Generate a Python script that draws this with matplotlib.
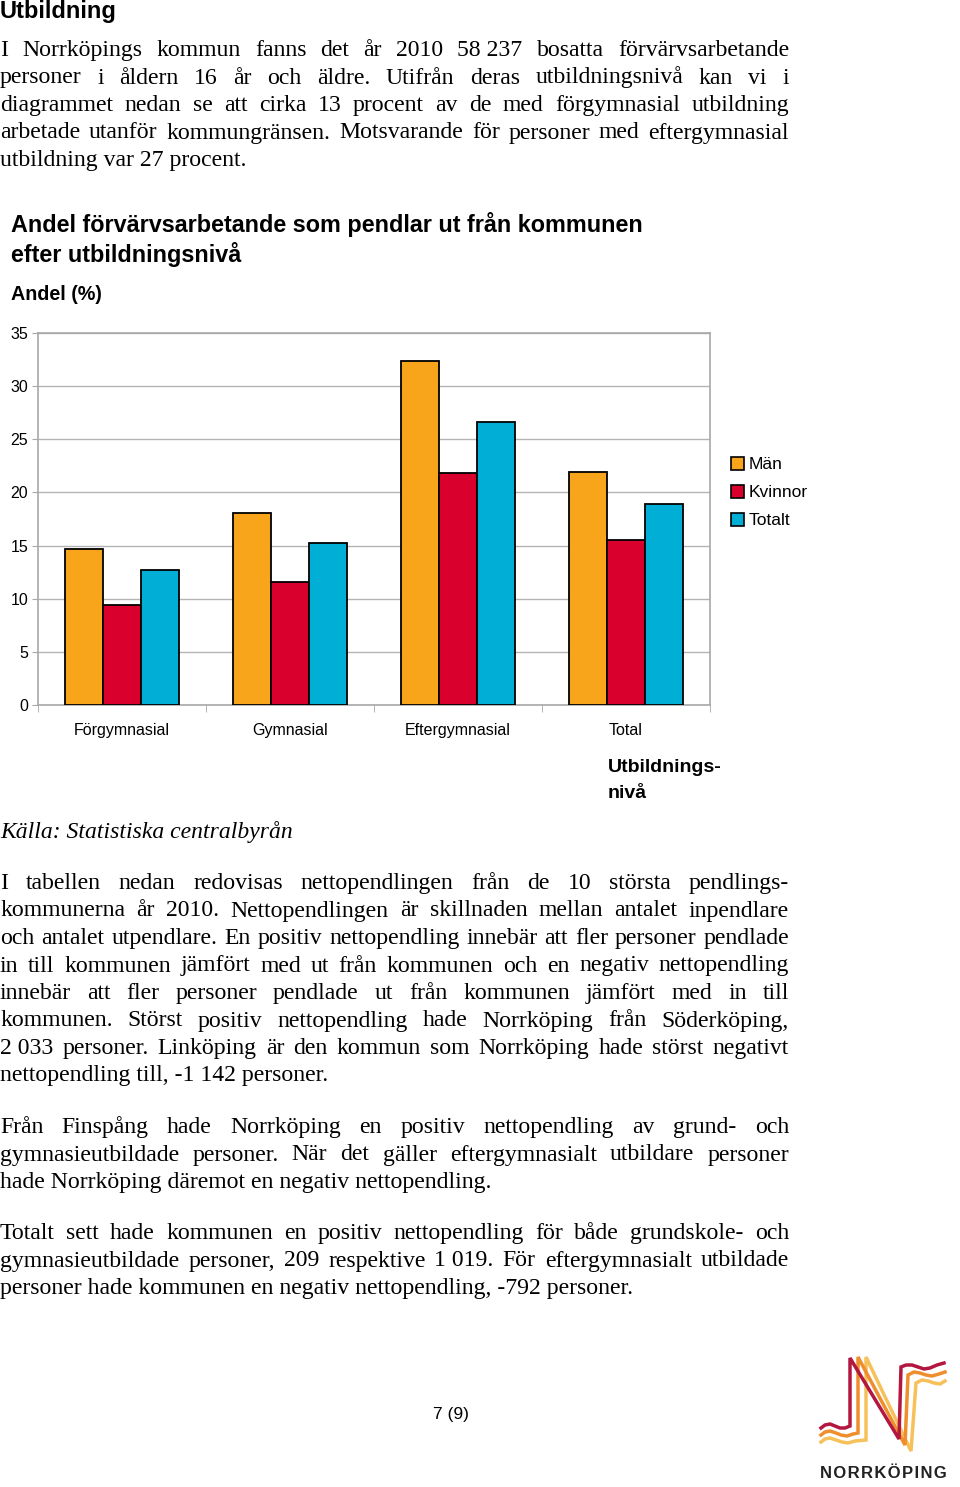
import numpy as np
import matplotlib.pyplot as plt
from matplotlib.patches import Patch

# chart data
categories = ['Förgymnasial', 'Gymnasial', 'Eftergymnasial', 'Total']
series_names = ['Män', 'Kvinnor', 'Totalt']
man = [14.7, 18.1, 32.4, 21.9]
kvinnor = [9.4, 11.6, 21.8, 15.5]
totalt = [12.7, 15.2, 26.6, 18.9]
yticks = [0, 5, 10, 15, 20, 25, 30, 35]
colors = ['#F8A51B', '#DA002E', '#00AED6']

NB = '\u00a0'
para1 = [
    f"I Norrköpings kommun fanns det år 2010 58{NB}237 bosatta förvärvsarbetande",
    "personer i åldern 16 år och äldre. Utifrån deras utbildningsnivå kan vi i",
    "diagrammet nedan se att cirka 13 procent av de med förgymnasial utbildning",
    "arbetade utanför kommungränsen. Motsvarande för personer med eftergymnasial",
    "utbildning var 27 procent.",
]
para2 = [
    "I tabellen nedan redovisas nettopendlingen från de 10 största pendlings-",
    "kommunerna år 2010. Nettopendlingen är skillnaden mellan antalet inpendlare",
    "och antalet utpendlare. En positiv nettopendling innebär att fler personer pendlade",
    "in till kommunen jämfört med ut från kommunen och en negativ nettopendling",
    "innebär att fler personer pendlade ut från kommunen jämfört med in till",
    "kommunen. Störst positiv nettopendling hade Norrköping från Söderköping,",
    f"2{NB}033 personer. Linköping är den kommun som Norrköping hade störst negativt",
    f"nettopendling till, -1{NB}142 personer.",
]
para3 = [
    "Från Finspång hade Norrköping en positiv nettopendling av grund- och",
    "gymnasieutbildade personer. När det gäller eftergymnasialt utbildare personer",
    "hade Norrköping däremot en negativ nettopendling.",
]
para4 = [
    "Totalt sett hade kommunen en positiv nettopendling för både grundskole- och",
    f"gymnasieutbildade personer, 209 respektive 1{NB}019. För eftergymnasialt utbildade",
    "personer hade kommunen en negativ nettopendling, -792 personer.",
]

W, H = 960, 1487
fig = plt.figure(figsize=(9.6, 14.87), dpi=100)
plt.rcParams['font.family'] = ['Liberation Sans', 'DejaVu Sans']


def fx(x):
    return x / W


def fy(y):
    return 1 - y / H


# page layer in pixel coordinates (y downwards)
page = fig.add_axes([0, 0, 1, 1])
page.set_xlim(0, W)
page.set_ylim(H, 0)
page.axis('off')

# --- chart ---
ax = fig.add_axes([fx(38), fy(705), 672 / W, 372 / H])
x = np.arange(len(categories))
width = 0.226
for i, (vals, c) in enumerate(zip([man, kvinnor, totalt], colors)):
    ax.bar(x + (i - 1) * width, vals, width, color=c, edgecolor='black',
           linewidth=1.3, zorder=3)
ax.set_xlim(-0.5, len(categories) - 0.5)
ax.set_ylim(0, 35)
ax.set_yticks(yticks)
ax.yaxis.grid(True, color='#b4b4b4', linewidth=1)
ax.set_axisbelow(True)
for s in ax.spines.values():
    s.set_color('#a8a8a8')
    s.set_linewidth(1.2)
ax.set_xticks(x, categories)
ax.set_xticks(np.arange(len(categories) + 1) - 0.5, minor=True)
ax.tick_params(axis='x', which='major', length=0, pad=13, labelsize=11.5)
ax.tick_params(axis='x', which='minor', length=5, color='#a8a8a8')
ax.tick_params(axis='y', length=4, color='#a8a8a8', pad=3, labelsize=11.5)

handles = [Patch(facecolor=c, edgecolor='black', linewidth=1.2) for c in colors]
fig.legend(handles, series_names, loc='upper left',
           bbox_to_anchor=(fx(731), fy(457)), frameon=False, fontsize=12.5,
           handlelength=0.75, handleheight=0.75, handletextpad=0.25,
           labelspacing=0.72, borderpad=0, borderaxespad=0)

# chart titles
page.text(11, 232, "Andel förvärvsarbetande som pendlar ut från kommunen",
          fontsize=16.8, fontweight='bold', va='baseline')
page.text(11, 262, "efter utbildningsnivå", fontsize=16.8, fontweight='bold',
          va='baseline')
page.text(11, 300, "Andel (%)", fontsize=14.2, fontweight='bold', va='baseline')
page.text(608, 772, "Utbildnings-", fontsize=14, fontweight='bold', va='baseline')
page.text(608, 798, "nivå", fontsize=14, fontweight='bold', va='baseline')

# --- body text ---
page.text(0, 18, "Utbildning", fontsize=17, fontweight='bold', va='baseline')

body = dict(fontsize=17.1, family='Liberation Serif', va='baseline')
renderer = fig.canvas.get_renderer()


def paragraph(lines, y0, step=27.5, x0=0, x1=789):
    for k, line in enumerate(lines):
        y = y0 + k * step
        if k == len(lines) - 1:
            page.text(x0, y, line, **body)
            continue
        words = line.split(' ')
        ts = [page.text(0, y, w, **body) for w in words]
        ws = [t.get_window_extent(renderer).width for t in ts]
        gap = (x1 - x0 - sum(ws)) / (len(ws) - 1)
        xx = x0
        for t, w in zip(ts, ws):
            t.set_x(xx)
            xx += w + gap


paragraph(para1, 56)
paragraph(para2, 889)
paragraph(para3, 1133)
paragraph(para4, 1239)

page.text(0, 838, "Källa: Statistiska centralbyrån", fontsize=17,
          family='Liberation Serif', style='italic', va='baseline')

page.text(451, 1415, "7 (9)", fontsize=12.5, ha='center', va='center')

# --- logo ---
logo_red = [(821, 1428), (825, 1425), (830, 1424), (835, 1426), (840, 1428),
            (845, 1428), (850, 1426),
            (850, 1358), (899, 1439), (901, 1367), (906, 1365), (912, 1365),
            (918, 1367), (924, 1369), (930, 1368), (937, 1365), (944, 1363)]
logo_orange = [(821, 1435), (825, 1432), (830, 1431), (836, 1433), (841, 1435),
               (847, 1436), (853, 1434), (858, 1433),
               (858, 1357), (905, 1445), (908, 1375), (914, 1372), (920, 1373),
               (926, 1375), (932, 1376), (939, 1374), (945, 1372)]
logo_yellow = [(821, 1442), (825, 1439), (830, 1438), (836, 1440), (842, 1442),
               (848, 1443), (855, 1441), (866, 1440),
               (866, 1357), (911, 1451), (916, 1383), (922, 1380), (928, 1381),
               (934, 1383), (940, 1384), (945, 1381)]
for pts, c in [(logo_yellow, '#F6C15A'), (logo_orange, '#EF8E2C'),
               (logo_red, '#B3163F')]:
    px, py = zip(*pts)
    page.plot(px, py, color=c, linewidth=2.5, solid_joinstyle='miter')
page.text(883, 1474, "N O R R K Ö P I N G".replace(' ', '\u200a'), fontsize=12,
          fontweight='bold', ha='center', va='center', color='#222222')

fig.savefig('out.png', dpi=100)
